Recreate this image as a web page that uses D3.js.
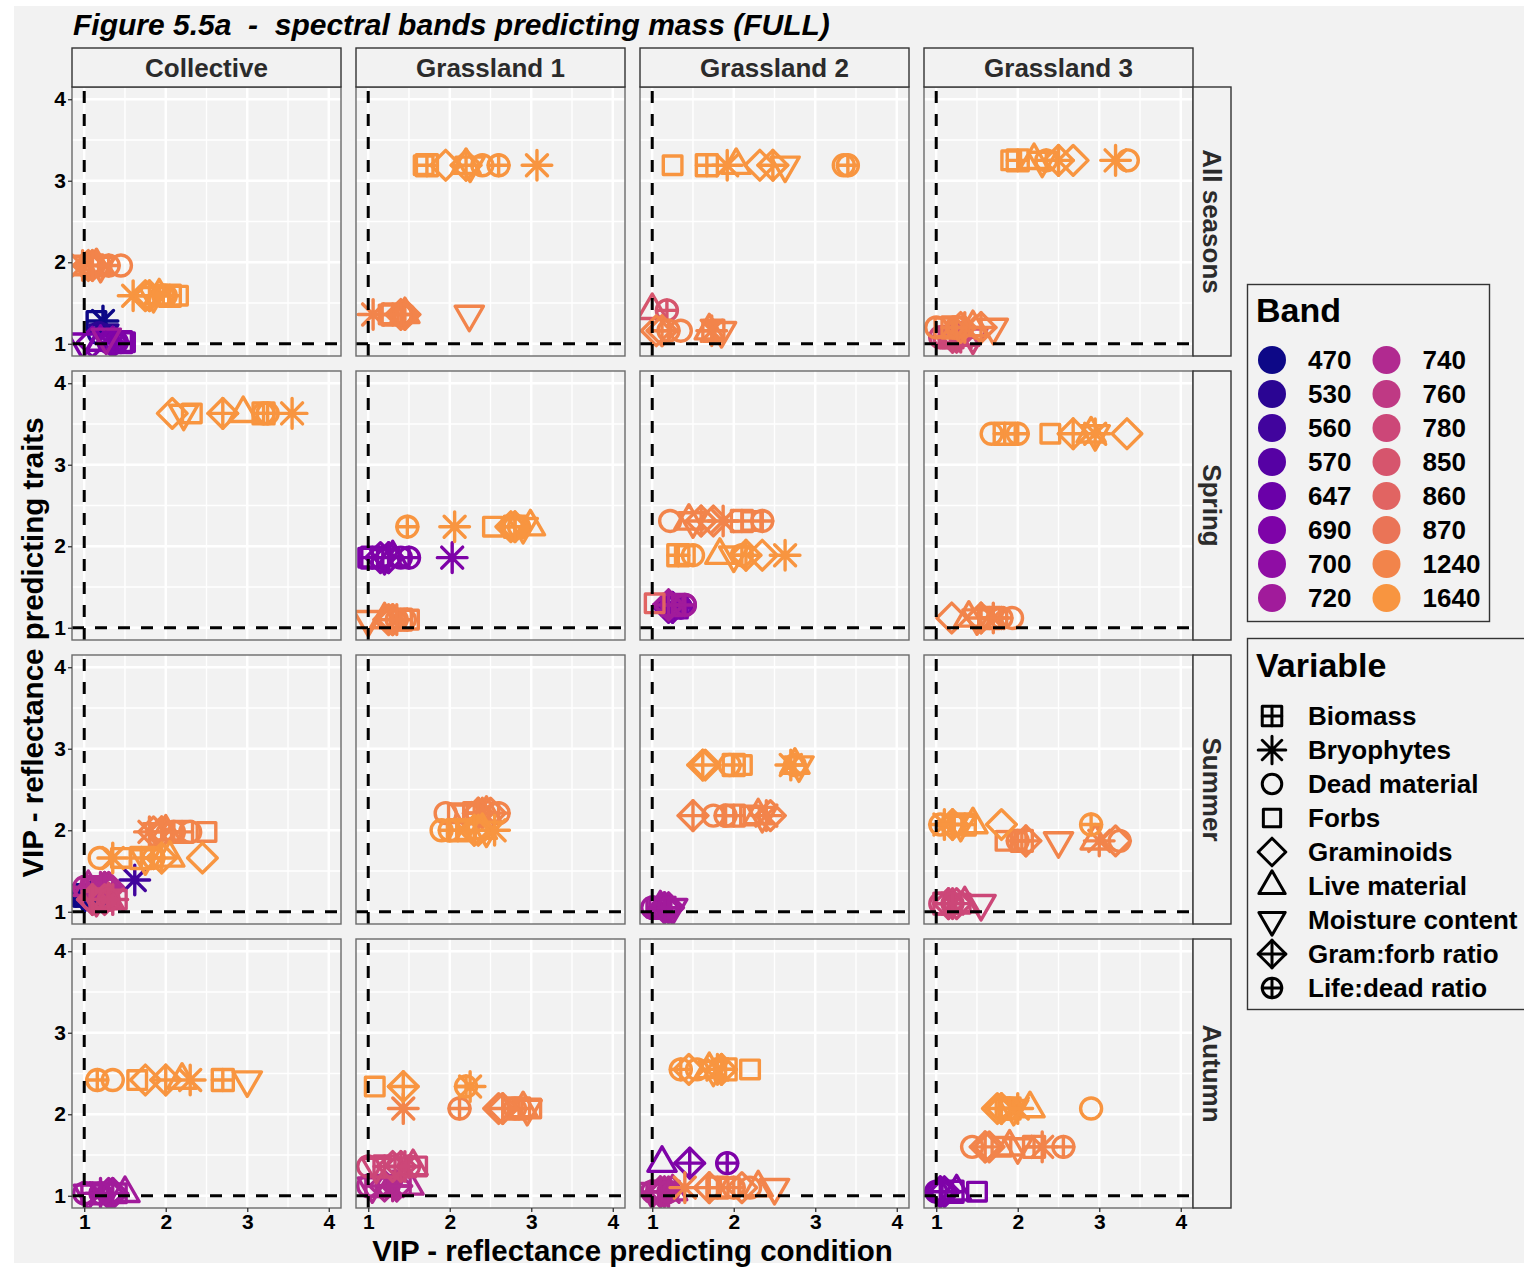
<!DOCTYPE html>
<html>
<head>
<meta charset="utf-8">
<script src="https://cdn.jsdelivr.net/npm/d3@7"></script>
<style>
  body { margin: 0; background: #ffffff; }
  text { font-family: "Liberation Sans", Arial, Helvetica, sans-serif; }
</style>
</head>
<body>
<svg id="chart" width="1524" height="1267"></svg>
<script>
// ---- categories ----
const sites = ["Collective", "Grassland 1", "Grassland 2", "Grassland 3"];
const seasons = ["All seasons", "Spring", "Summer", "Autumn"];
const bands = ["470", "530", "560", "570", "647", "690", "700", "720",
               "740", "760", "780", "850", "860", "870", "1240", "1640"];
const variables = ["Biomass", "Bryophytes", "Dead material", "Forbs", "Graminoids",
                   "Live material", "Moisture content", "Gram:forb ratio", "Life:dead ratio"];
const majorTicks = [1, 2, 3, 4];
const minorTicks = [1.5, 2.5, 3.5];

// ---- VIP values ----
// Each row: [band, VIP of the band predicting traits (y),
//            VIP of the band predicting each variable, in `variables` order (x)]
const collectiveAll = [
  ["470",  1.28, [null, 1.23, null, 1.15, null, null, null, null, null]],
  ["530",  1.13, [null, null, null, null, null, null, 1.24, null, 1.18]],
  ["690",  1.02, [1.45, null, 1.30, 1.50, 1.10, 1.20, 0.98, 1.35, 1.40]],
  ["720",  1.08, [null, null, null, null, null, null, 1.27, null, null]],
  ["1240", 1.96, [1.10, 0.98, 1.45, 0.95, 1.05, 1.15, 1.20, 1.10, 1.30]],
  ["1640", 1.59, [2.05, 1.60, 2.00, 2.15, 1.75, 1.92, 1.85, 1.80, 1.97]]
];
const grassland1All = [
  ["1240", 1.36, [1.30, 1.06, 1.45, 1.25, 1.40, 1.45, 2.24, 1.45, 1.40]],
  ["1640", 3.19, [1.72, 3.07, 2.40, 1.68, 1.95, 2.20, 2.25, 2.20, 2.60]]
];
const grassland2All = [
  ["850",  1.41, [null, null, null, null, null, 1.00, null, null, 1.18]],
  ["1240", 1.16, [1.75, 1.73, 1.35, null, 1.05, 1.70, 1.85, 1.12, 1.20]],
  ["1640", 3.19, [1.67, 1.92, 3.35, 1.25, 2.32, 2.03, 2.63, 2.48, 3.40]]
];
const grassland3All = [
  ["780",  1.08, [1.20, 1.30, 1.10, 1.15, 1.25, 1.35, 1.45, 1.20, 1.05]],
  ["1240", 1.20, [1.20, 1.35, 1.00, 1.10, 1.30, 1.45, 1.70, 1.55, 1.25]],
  ["1640", 3.25, [2.00, 3.20, 3.35, 1.92, 2.68, 2.20, 2.30, 2.50, 2.35]]
];

const collectiveSpring = [
  ["1640", 3.63, [3.20, 3.55, 3.20, 2.32, 2.08, 2.95, 2.22, 2.70, 3.25]]
];
const grassland1Spring = [
  ["690",  1.86, [1.05, 2.03, 1.40, 1.00, 1.15, 1.30, 1.20, 1.25, 1.50]],
  ["1240", 1.10, [1.40, 1.35, 1.45, 1.50, 1.25, 1.20, 1.00, 1.30, 1.35]],
  ["1640", 2.24, [2.80, 2.06, 2.85, 2.53, 2.75, 2.99, 2.90, 2.80, 1.48]]
];
const grassland2Spring = [
  ["690",  1.25, [1.30, null, 1.35, 1.30, 1.20, null, null, 1.25, 1.35]],
  ["720",  1.28, [1.25, null, 1.40, null, 1.20, null, null, 1.20, 1.40]],
  ["860",  1.30, [null, null, null, 1.03, null, null, null, null, null]],
  ["1240", 2.31, [2.10, 1.87, 1.22, 2.22, 1.75, 1.45, 1.50, 1.60, 2.35]],
  ["1640", 1.89, [1.32, 2.63, 1.50, 1.40, 2.35, 1.83, 2.00, 2.15, 2.10]]
];
const grassland3Spring = [
  ["1240", 1.12, [1.65, 1.70, 1.93, 1.75, 1.19, 1.40, 1.50, 1.55, 1.80]],
  ["1640", 3.38, [1.84, 2.95, 1.68, 2.40, 3.34, 2.90, 2.95, 2.68, 2.00]]
];

const collectiveSummer = [
  ["470",  1.20, [1.00, 1.10, 0.95, 1.05, 1.15, 1.20, 1.00, 1.10, 0.90]],
  ["560",  1.39, [null, 1.62, null, null, null, null, null, null, null]],
  ["740",  1.30, [1.10, 1.20, 1.25, 1.15, 1.30, 1.05, 1.20, 1.25, 1.00]],
  ["780",  1.15, [1.20, 1.35, 1.10, 1.40, 1.25, 1.30, 1.15, 1.10, 1.30]],
  ["1240", 1.98, [2.20, 1.80, 2.30, 2.50, 1.85, 2.00, 1.90, 1.95, 2.10]],
  ["1640", 1.66, [1.70, 1.35, 1.19, 1.45, 2.45, 2.05, 1.75, 1.95, 1.85]]
];
const grassland1Summer = [
  ["1240", 2.21, [2.30, 2.40, 1.95, 2.10, 2.50, 2.45, 2.20, 2.35, 2.60]],
  ["1640", 2.00, [2.10, 2.55, 1.90, 2.20, 2.35, 2.40, 2.45, 2.30, 2.00]]
];
const grassland2Summer = [
  ["720",  1.05, [1.10, 1.15, 1.00, 1.05, 1.20, 1.10, 1.25, 1.15, 1.20]],
  ["1240", 2.18, [2.00, 2.40, 1.75, 2.20, 2.45, 2.30, 2.35, 1.50, 1.90]],
  ["1640", 2.80, [2.00, 2.70, 1.95, 2.10, 1.65, 2.75, 2.80, 1.62, 2.75]]
];
const grassland3Summer = [
  ["780",  1.10, [1.10, 1.20, 1.05, 1.30, 1.25, 1.35, 1.55, 1.15, 1.20]],
  ["1240", 1.87, [2.05, 3.00, 3.25, 1.85, 3.20, 2.95, 2.50, 2.10, 2.00]],
  ["1640", 2.07, [1.35, 1.10, 1.05, 1.20, 1.80, 1.45, 1.30, 1.20, 2.90]]
];

const collectiveAutumn = [
  ["720",  1.03, [1.10, 1.20, 1.00, 1.40, 1.30, 1.50, 1.05, 1.35, 1.20]],
  ["1640", 2.42, [2.70, 2.30, 1.35, 1.65, 1.75, 2.20, 3.00, 2.00, 1.16]]
];
const grassland1Autumn = [
  ["740",  1.12, [1.10, 1.30, 1.00, 1.40, 1.20, 1.50, 1.05, 1.35, 1.25]],
  ["780",  1.36, [1.20, 1.45, 1.00, 1.60, 1.30, 1.55, 1.10, 1.40, 1.50]],
  ["1240", 2.07, [2.85, 1.43, 2.80, 3.00, 2.60, 2.90, 2.95, 2.65, 2.12]],
  ["1640", 2.34, [null, 2.25, null, 1.08, null, null, null, 1.43, 2.20]]
];
const grassland2Autumn = [
  ["690",  1.40, [null, null, null, null, null, 1.12, null, 1.46, 1.92]],
  ["740",  1.05, [1.10, 1.20, 1.00, 1.05, 1.15, 1.25, 1.00, 1.10, 1.20]],
  ["1240", 1.10, [1.80, 1.40, 2.20, 1.95, 2.10, 2.30, 2.50, 1.70, 2.00]],
  ["1640", 2.55, [1.90, 1.80, 1.55, 2.20, 1.45, 1.70, 1.75, 1.85, 1.35]]
];
const grassland3Autumn = [
  ["690",  1.05, [1.20, null, 1.00, 1.50, 1.10, 1.25, null, 1.05, null]],
  ["1240", 1.60, [2.20, 2.30, 1.44, 1.80, 1.65, 1.90, 2.00, 1.60, 2.56]],
  ["1640", 2.07, [1.90, 2.00, 2.90, 1.85, 1.75, 2.15, 1.95, 1.80, 1.90]]
];

// panel lookup: rows = seasons, columns = sites
const panelRows = [
  [collectiveAll, grassland1All, grassland2All, grassland3All],
  [collectiveSpring, grassland1Spring, grassland2Spring, grassland3Spring],
  [collectiveSummer, grassland1Summer, grassland2Summer, grassland3Summer],
  [collectiveAutumn, grassland1Autumn, grassland2Autumn, grassland3Autumn]
];

// ---- layout ----
const W = 1524, H = 1267;
const panelW = 269, panelH = 269, step = 284;
const left0 = 72, top0 = 87;
const stripH = 39, stripW = 38;
const bg = "#f2f2f2";
const domain = [0.85, 4.15];
const pointSize = 28, pointStroke = 3.4;

const color = d3.scaleOrdinal(bands, bands.map((b, i) => d3.interpolatePlasma(i * 0.05)));

const svg = d3.select("#chart");
svg.append("rect").attr("x", 0).attr("y", 0).attr("width", W).attr("height", H).attr("fill", "#ffffff");
svg.append("rect").attr("x", 14).attr("y", 6).attr("width", W - 14).attr("height", H - 10).attr("fill", bg);

// symbol outlines after R's plotting characters; s is the symbol size in px
const R0 = 0.375;
function drawSymbol(g, variable, s, stroke, sw) {
  const r = R0 * s;
  const add = (tag) => g.append(tag).attr("fill", "none").attr("stroke", stroke)
    .attr("stroke-width", sw).attr("stroke-linecap", "round").attr("stroke-linejoin", "round");
  const plus = (a) => add("path").attr("d", `M${-a},0H${a}M0,${-a}V${a}`);
  switch (variable) {
    case "Biomass":
      add("rect").attr("x", -r).attr("y", -r).attr("width", 2 * r).attr("height", 2 * r);
      plus(r);
      break;
    case "Bryophytes": {
      const p = Math.SQRT2 * r;
      add("path").attr("d", `M${-r},${-r}L${r},${r}M${-r},${r}L${r},${-r}M${-p},0H${p}M0,${-p}V${p}`);
      break;
    }
    case "Dead material":
      add("circle").attr("r", r);
      break;
    case "Forbs": {
      const h = r * 0.8862269;
      add("rect").attr("x", -h).attr("y", -h).attr("width", 2 * h).attr("height", 2 * h);
      break;
    }
    case "Graminoids": {
      const d = Math.SQRT2 * r;
      add("path").attr("d", `M0,${-d}L${d},0L0,${d}L${-d},0Z`);
      break;
    }
    case "Live material": {
      const tr = 1.5551203 * r, xc = 1.3467737 * r, yc = 0.7775602 * r;
      add("path").attr("d", `M0,${-tr}L${xc},${yc}L${-xc},${yc}Z`);
      break;
    }
    case "Moisture content": {
      const tr = 1.5551203 * r, xc = 1.3467737 * r, yc = 0.7775602 * r;
      add("path").attr("d", `M0,${tr}L${xc},${-yc}L${-xc},${-yc}Z`);
      break;
    }
    case "Gram:forb ratio": {
      const d = Math.SQRT2 * r;
      add("path").attr("d", `M0,${-d}L${d},0L0,${d}L${-d},0Z`);
      plus(d);
      break;
    }
    case "Life:dead ratio":
      add("circle").attr("r", r);
      plus(r);
      break;
  }
}

const defs = svg.append("defs");

function styleAxis(ax) {
  ax.select(".domain").remove();
  ax.selectAll(".tick line").attr("stroke", "#333").attr("stroke-width", 1.3);
  ax.selectAll(".tick text").attr("font-size", 21).attr("font-weight", "bold").attr("fill", "#000")
    .attr("font-family", "Liberation Sans, Arial, sans-serif");
}

panelRows.forEach((rowPanels, ri) => {
  rowPanels.forEach((rowsData, ci) => {
    const px = left0 + ci * step, py = top0 + ri * step;
    const x = d3.scaleLinear().domain(domain).range([px, px + panelW]);
    const y = d3.scaleLinear().domain(domain).range([py + panelH, py]);

    const g = svg.append("g");
    g.append("rect").attr("x", px).attr("y", py).attr("width", panelW).attr("height", panelH).attr("fill", bg);

    // grid
    minorTicks.forEach(t => {
      g.append("line").attr("x1", x(t)).attr("x2", x(t)).attr("y1", py).attr("y2", py + panelH)
        .attr("stroke", "#ffffff").attr("stroke-width", 1.4);
      g.append("line").attr("y1", y(t)).attr("y2", y(t)).attr("x1", px).attr("x2", px + panelW)
        .attr("stroke", "#ffffff").attr("stroke-width", 1.4);
    });
    majorTicks.forEach(t => {
      g.append("line").attr("x1", x(t)).attr("x2", x(t)).attr("y1", py).attr("y2", py + panelH)
        .attr("stroke", "#ffffff").attr("stroke-width", 2.4);
      g.append("line").attr("y1", y(t)).attr("y2", y(t)).attr("x1", px).attr("x2", px + panelW)
        .attr("stroke", "#ffffff").attr("stroke-width", 2.4);
    });

    const clipId = `clip-${ri}-${ci}`;
    defs.append("clipPath").attr("id", clipId)
      .append("rect").attr("x", px).attr("y", py).attr("width", panelW).attr("height", panelH);
    const inner = g.append("g").attr("clip-path", `url(#${clipId})`);

    // points: one per band and variable
    rowsData.forEach(([band, vy, xs]) => {
      xs.forEach((vx, vi) => {
        if (vx == null) return;
        const pg = inner.append("g").attr("transform", `translate(${x(vx)},${y(vy)})`);
        drawSymbol(pg, variables[vi], pointSize, color(band), pointStroke);
      });
    });

    // reference lines at VIP = 1
    inner.append("line").attr("x1", x(1)).attr("x2", x(1)).attr("y1", py + panelH).attr("y2", py)
      .attr("stroke", "#000").attr("stroke-width", 3).attr("stroke-dasharray", "12,11");
    inner.append("line").attr("x1", px).attr("x2", px + panelW).attr("y1", y(1)).attr("y2", y(1))
      .attr("stroke", "#000").attr("stroke-width", 3).attr("stroke-dasharray", "12,11");

    g.append("rect").attr("x", px).attr("y", py).attr("width", panelW).attr("height", panelH)
      .attr("fill", "none").attr("stroke", "#6b6b6b").attr("stroke-width", 1.4);

    // y axis on the first column
    if (ci === 0) {
      const ax = svg.append("g").attr("transform", `translate(${px},0)`)
        .call(d3.axisLeft(y).tickValues(majorTicks).tickFormat(d3.format("d")).tickSize(4).tickPadding(2));
      styleAxis(ax);
    }
    // x axis under the last row
    if (ri === 3) {
      const ax = svg.append("g").attr("transform", `translate(0,${py + panelH})`)
        .call(d3.axisBottom(x).tickValues(majorTicks).tickFormat(d3.format("d")).tickSize(4).tickPadding(2));
      styleAxis(ax);
    }
  });
});

// column strips
sites.forEach((s, ci) => {
  const px = left0 + ci * step;
  svg.append("rect").attr("x", px).attr("y", top0 - stripH).attr("width", panelW).attr("height", stripH)
    .attr("fill", bg).attr("stroke", "#333").attr("stroke-width", 1.4);
  svg.append("text").attr("x", px + panelW / 2).attr("y", top0 - stripH / 2)
    .attr("text-anchor", "middle").attr("dominant-baseline", "central")
    .attr("font-size", 26).attr("font-weight", "bold").attr("fill", "#2b2b2b").text(s);
});
// row strips
seasons.forEach((s, ri) => {
  const py = top0 + ri * step;
  const sx = left0 + 3 * step + panelW;
  svg.append("rect").attr("x", sx).attr("y", py).attr("width", stripW).attr("height", panelH)
    .attr("fill", bg).attr("stroke", "#333").attr("stroke-width", 1.4);
  svg.append("text").attr("transform", `translate(${sx + stripW / 2},${py + panelH / 2}) rotate(90)`)
    .attr("text-anchor", "middle").attr("dominant-baseline", "central")
    .attr("font-size", 26).attr("font-weight", "bold").attr("fill", "#2b2b2b").text(s);
});

// titles
svg.append("text").attr("x", 73).attr("y", 35).attr("font-size", 30).attr("font-weight", "bold")
  .attr("font-style", "italic").style("white-space", "pre").attr("fill", "#000")
  .text("Figure 5.5a  -  spectral bands predicting mass (FULL)");
svg.append("text").attr("x", left0 + (3 * step + panelW) / 2).attr("y", 1261)
  .attr("text-anchor", "middle").attr("font-size", 29.5).attr("font-weight", "bold").attr("fill", "#000")
  .text("VIP - reflectance predicting condition");
svg.append("text").attr("transform", `translate(43,${top0 + (3 * step + panelH) / 2}) rotate(-90)`)
  .attr("text-anchor", "middle").attr("font-size", 29.5).attr("font-weight", "bold").attr("fill", "#000")
  .text("VIP - reflectance predicting traits");

// ---- Band legend ----
const lb = svg.append("g");
lb.append("rect").attr("x", 1247.5).attr("y", 284.5).attr("width", 242).attr("height", 337)
  .attr("fill", bg).attr("stroke", "#333").attr("stroke-width", 1.4);
lb.append("text").attr("x", 1256).attr("y", 322).attr("font-size", 34).attr("font-weight", "bold")
  .attr("fill", "#000").text("Band");
bands.forEach((b, i) => {
  const col = Math.floor(i / 8), row = i % 8;
  const cx = 1272 + col * 114.5, cy = 360 + row * 34;
  lb.append("circle").attr("cx", cx).attr("cy", cy).attr("r", 14).attr("fill", color(b));
  lb.append("text").attr("x", cx + 36).attr("y", cy).attr("dominant-baseline", "central")
    .attr("font-size", 26).attr("font-weight", "bold").attr("fill", "#000").text(b);
});

// ---- Variable legend ----
const lv = svg.append("g");
lv.append("rect").attr("x", 1247.5).attr("y", 638.5).attr("width", 290).attr("height", 371)
  .attr("fill", bg).attr("stroke", "#333").attr("stroke-width", 1.4);
lv.append("text").attr("x", 1256).attr("y", 677).attr("font-size", 34).attr("font-weight", "bold")
  .attr("fill", "#000").text("Variable");
variables.forEach((v, i) => {
  const cy = 716 + i * 34;
  const sg = lv.append("g").attr("transform", `translate(1272,${cy})`);
  drawSymbol(sg, v, 26, "#000", 3);
  lv.append("text").attr("x", 1308).attr("y", cy).attr("dominant-baseline", "central")
    .attr("font-size", 26).attr("font-weight", "bold").attr("fill", "#000").text(v);
});
</script>
</body>
</html>
